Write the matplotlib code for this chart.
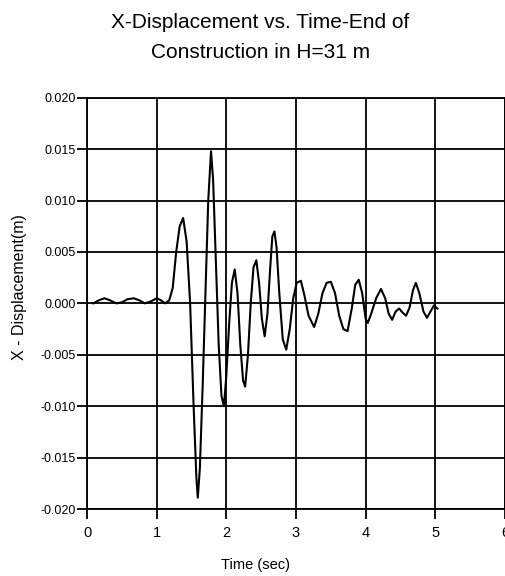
import matplotlib
matplotlib.use("Agg")
import matplotlib.pyplot as plt
from matplotlib.ticker import FixedLocator, FuncFormatter

# ---- data ----
time_s = [0.09, 0.17, 0.25, 0.33, 0.42, 0.50, 0.58, 0.67, 0.75, 0.83, 0.92, 1.00,
          1.06, 1.12, 1.18, 1.23, 1.28, 1.33, 1.38, 1.43, 1.48, 1.53, 1.57, 1.59,
          1.62, 1.66, 1.70, 1.74, 1.78, 1.81, 1.85, 1.89, 1.93, 1.965, 2.00, 2.04,
          2.08, 2.12, 2.16, 2.20, 2.24, 2.27, 2.31, 2.35, 2.39, 2.43, 2.47, 2.51,
          2.55, 2.59, 2.63, 2.66, 2.69, 2.72, 2.76, 2.81, 2.86, 2.91, 2.96, 3.01,
          3.07, 3.12, 3.18, 3.26, 3.32, 3.38, 3.44, 3.50, 3.56, 3.62, 3.68, 3.74,
          3.80, 3.85, 3.90, 3.95, 4.00, 4.03, 4.08, 4.15, 4.22, 4.28, 4.33, 4.38,
          4.43, 4.48, 4.53, 4.58, 4.63, 4.68, 4.72, 4.77, 4.83, 4.88, 4.93, 4.98,
          5.03]
x_disp = [0.0000, 0.0003, 0.0005, 0.0003, 0.0000, 0.0001, 0.0004, 0.0005, 0.0003,
          0.0000, 0.0002, 0.0005, 0.0003, 0.0000, 0.0003, 0.0015, 0.0050, 0.0075,
          0.0083, 0.0060, 0.0000, -0.0100, -0.0170, -0.0189, -0.0160, -0.0080,
          0.0010, 0.0100, 0.0148, 0.0120, 0.0040, -0.0040, -0.0090, -0.0100,
          -0.0070, -0.0020, 0.0020, 0.0033, 0.0010, -0.0040, -0.0075, -0.0081,
          -0.0050, 0.0000, 0.0035, 0.0042, 0.0020, -0.0015, -0.0032, -0.0010,
          0.0035, 0.0065, 0.0070, 0.0055, 0.0010, -0.0035, -0.0045, -0.0025,
          0.0005, 0.0020, 0.0022, 0.0008, -0.0012, -0.0023, -0.0010, 0.0010,
          0.0020, 0.0021, 0.0010, -0.0012, -0.0025, -0.0027, -0.0005, 0.0018,
          0.0023, 0.0010, -0.0015, -0.0019, -0.0010, 0.0005, 0.0014, 0.0005,
          -0.0010, -0.0016, -0.0008, -0.0005, -0.0009, -0.0012, -0.0004, 0.0013,
          0.0020, 0.0010, -0.0008, -0.0014, -0.0008, -0.0002, -0.0005]

x_ticks = [0, 1, 2, 3, 4, 5, 6]
y_ticks = [-0.020, -0.015, -0.010, -0.005, 0.000, 0.005, 0.010, 0.015, 0.020]

title_line1 = "X-Displacement vs. Time-End of"
title_line2 = "Construction in H=31 m"
x_label = "Time (sec)"
y_label = "X - Displacement(m)"

FONT = ["Liberation Sans", "DejaVu Sans"]

fig = plt.figure(figsize=(5.06, 5.76), dpi=100)
ax = fig.add_axes([0.172, 0.1163, 0.826, 0.714])

ax.plot(time_s, x_disp, color="black", linewidth=1.5)

ax.set_xlim(0, 6)
ax.set_ylim(-0.020, 0.020)
ax.xaxis.set_major_locator(FixedLocator(x_ticks))
ax.yaxis.set_major_locator(FixedLocator(y_ticks))
ax.yaxis.set_major_formatter(FuncFormatter(lambda v, p: f"{v:.3f}" if abs(v) > 1e-12 else "0.000"))
ax.xaxis.set_major_formatter(FuncFormatter(lambda v, p: f"{int(round(v))}"))

ax.grid(True, color="black", linewidth=1.3)
ax.set_axisbelow(True)
for s in ax.spines.values():
    s.set_color("black")
    s.set_linewidth(1.3)

ax.tick_params(axis="both", direction="out", length=7, width=1.3, color="black")
for lab in ax.get_xticklabels():
    lab.set_family(FONT)
    lab.set_fontsize(10.5)
for lab in ax.get_yticklabels():
    lab.set_family(FONT)
    lab.set_fontsize(9)
ax.tick_params(axis="x", pad=5)
ax.tick_params(axis="y", pad=1)

fig.text(260 / 506, 1 - 22 / 576, title_line1, ha="center", va="center",
         fontsize=15, family=FONT)
fig.text(261 / 506, 1 - 53 / 576, title_line2, ha="center", va="center",
         fontsize=15, family=FONT)
fig.text(256 / 506, 1 - 565 / 576, x_label, ha="center", va="center",
         fontsize=10.5, family=FONT)
fig.text(20 / 506, 1 - 287 / 576, y_label, ha="center", va="center",
         rotation=90, fontsize=11.5, family=FONT)

fig.savefig("out.png", dpi=100)
